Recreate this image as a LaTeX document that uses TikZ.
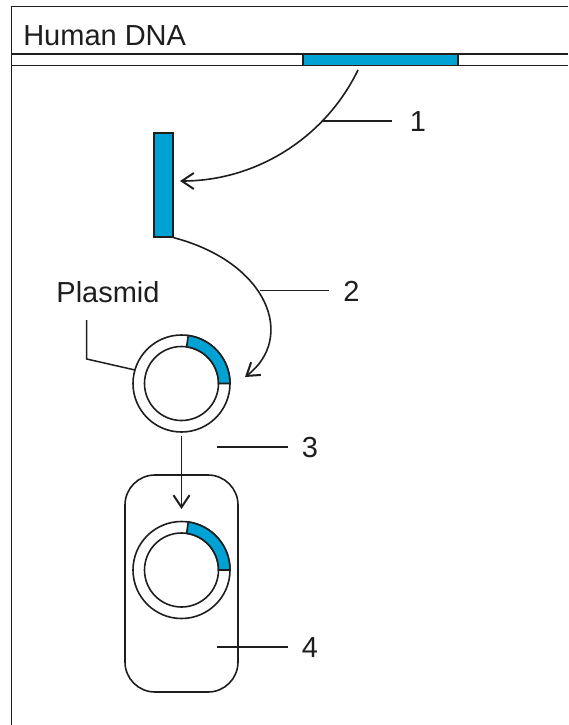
\documentclass[tikz,border=0pt]{standalone}
\usepackage{fontspec}
\setmainfont{Liberation Sans}
\usetikzlibrary{arrows.meta,calc}
\definecolor{dnablue}{RGB}{0,161,211}
\definecolor{ink}{RGB}{30,30,30}
\begin{document}
\begin{tikzpicture}[x=1pt,y=-1pt,
  line width=1.6pt, draw=ink,
  lbl/.style={font=\fontsize{29}{34}\selectfont, text=ink, inner sep=0pt, anchor=base},
  lead/.style={line width=1.5pt},
  arr/.style={-{Straight Barb[length=12pt,width=16pt,line width=2pt]}, line width=1.6pt},
  genebox/.style={draw=ink, fill=dnablue, line width=1.3pt, inner sep=0pt, minimum width=#1},
  ringout/.style={circle, draw=ink, fill=white, line width=1.6pt, minimum size=97pt, inner sep=0pt},
  ringin/.style={circle, draw=ink, fill=white, line width=1.6pt, minimum size=74pt, inner sep=0pt},
  cellbox/.style={draw=ink, rounded corners=30pt, minimum width=113pt, minimum height=217pt, inner sep=0pt, line width=1.6pt}]
\useasboundingbox (0,0) rectangle (568,725);

% frame, open to the right and bottom
\draw[line width=1.6pt] (568,6.7) -- (11.5,6.7) -- (11.5,725);
\draw[line width=1.5pt] (11.5,54) -- (568,54);
\draw[line width=1.5pt] (11.5,65.7) -- (568,65.7);
\node[lbl, anchor=base west] (title) at (22.5,45.7) {Human DNA};

% gene in the chromosome strip and the cut-out fragment
\node[genebox=155pt, minimum height=11.7pt] (gene) at (380.5,59.85) {};
\node[genebox=19pt, minimum height=104pt] (frag) at (163.5,185) {};

% step 1: cutting the gene out
\coordinate (c1a) at (358,70);
\coordinate (c1b) at (180,181);
\draw[arr] (c1a) .. controls +(-33,68) and +(76,0) .. (c1b);
\coordinate (l1a) at (322,121);
\coordinate (l1b) at (392,121);
\draw[lead] (l1a) -- (l1b);
\node[lbl] (n1) at (418,131.5) {1};

% plasmid
\node[ringout] (pl) at (181.5,383.5) {};
\node[ringin] (pli) at (181.5,383.5) {};
\filldraw[fill=dnablue, draw=ink, line width=1.6pt]
  ($(pl)+(37,0)$) -- ($(pl)+(48.5,0)$) arc[start angle=0, end angle=-82, radius=48.5]
  -- ($(pl)+(-82:37)$) arc[start angle=-82, end angle=0, radius=37] -- cycle;

% step 2: inserting the fragment
\coordinate (c2b) at (245,377);
\draw[arr] (frag.south east) .. controls +(95,25) and +(51,-39) .. (c2b);
\coordinate (l2a) at (260,290.7);
\coordinate (l2b) at (329,290.7);
\draw[lead] (l2a) -- (l2b);
\node[lbl] (n2) at (351.5,301.1) {2};

% plasmid label
\node[lbl] (plab) at (108,302) {Plasmid};
\coordinate (pla) at (86.7,320);
\coordinate (plb) at (86.7,359);
\coordinate (plc) at (135,370);
\draw[lead] (pla) -- (plb) -- (plc);

% step 3: transfer into the cell
\node[cellbox] (cell) at (181.5,583.5) {};
\coordinate (c3a) at (181.5,436);
\coordinate (c3b) at (181.5,509);
\draw[arr] (c3a) -- (c3b);
\coordinate (l3a) at (217,447);
\coordinate (l3b) at (288,447);
\draw[lead] (l3a) -- (l3b);
\node[lbl] (n3) at (310,457.4) {3};

% recombinant plasmid inside the cell
\node[ringout] (pq) at (181.5,570) {};
\node[ringin] (pqi) at (181.5,570) {};
\filldraw[fill=dnablue, draw=ink, line width=1.6pt]
  ($(pq)+(37,0)$) -- ($(pq)+(48.5,0)$) arc[start angle=0, end angle=-82, radius=48.5]
  -- ($(pq)+(-82:37)$) arc[start angle=-82, end angle=0, radius=37] -- cycle;

% step 4
\coordinate (l4a) at (217,647);
\coordinate (l4b) at (288,647);
\draw[lead] (l4a) -- (l4b);
\node[lbl] (n4) at (310,657.4) {4};
\end{tikzpicture}
\end{document}
